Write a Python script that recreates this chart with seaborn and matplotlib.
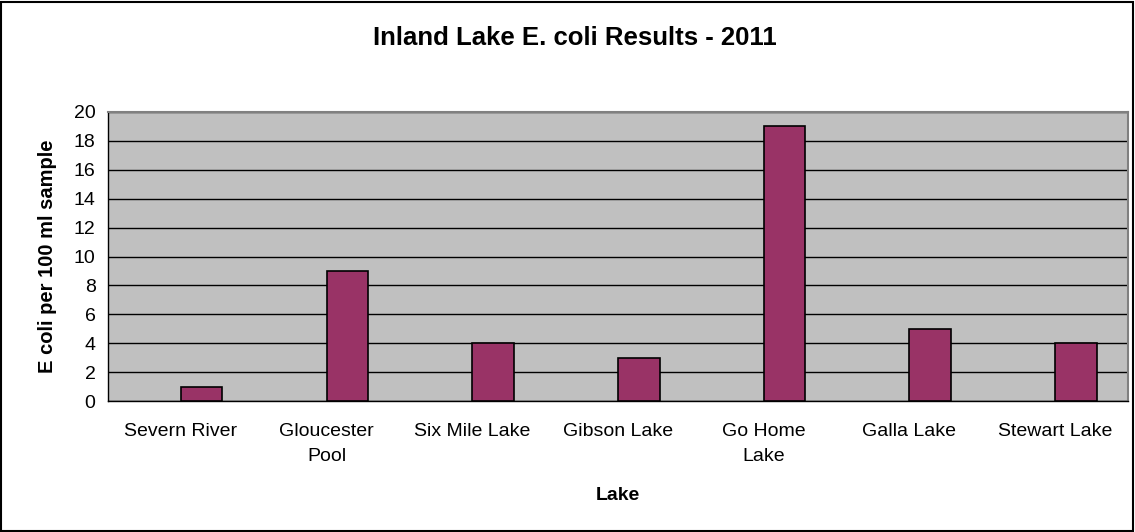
import pandas as pd
import matplotlib
matplotlib.use("Agg")
import matplotlib.pyplot as plt
import seaborn as sns
from matplotlib.patches import Rectangle

# chart data
lakes = ["Severn River", "Gloucester Pool", "Six Mile Lake", "Gibson Lake",
         "Go Home Lake", "Galla Lake", "Stewart Lake"]
tick_labels = ["Severn River", "Gloucester\nPool", "Six Mile Lake", "Gibson Lake",
               "Go Home\nLake", "Galla Lake", "Stewart Lake"]
ecoli = [1, 9, 4, 3, 19, 5, 4]

sns.set_theme(style="white")
plt.rcParams.update({
    "font.family": ["Liberation Sans", "DejaVu Sans"],
    "text.color": "black",
    "axes.labelcolor": "black",
    "xtick.color": "black",
    "ytick.color": "black",
})

df = pd.DataFrame({"lake": lakes, "ecoli": ecoli, "series": "E coli"})

fig = plt.figure(figsize=(11.35, 5.32), dpi=100)
ax = fig.add_axes([108 / 1135, 1 - 401 / 532, (1128 - 108) / 1135, (401 - 112) / 532])
ax.set_facecolor("#C0C0C0")

# Excel-style cluster: an empty first slot pushes the bar right of centre
sns.barplot(data=df, x="lake", y="ecoli", hue="series", order=lakes,
            hue_order=["blank", "E coli"], palette={"blank": "#C0C0C0", "E coli": "#993366"},
            dodge=True, saturation=1, width=1 / 1.75, edgecolor="black", linewidth=1.2,
            legend=False, ax=ax, zorder=3)

ax.set_ylim(0, 20)
ax.set_yticks(range(0, 21, 2))
ax.set_xlim(-0.5, len(lakes) - 0.5)
ax.yaxis.grid(True, color="black", linewidth=1)
ax.set_axisbelow(True)

ax.set_xticks(range(len(lakes)))
ax.set_xticklabels(tick_labels, fontsize=14, linespacing=1.6)
ax.set_xticks([i - 0.5 for i in range(len(lakes) + 1)], minor=True)
ax.tick_params(axis="x", which="major", length=0, pad=16)
ax.tick_params(axis="x", which="minor", length=6, width=1, color="black", direction="out")
ax.tick_params(axis="y", length=6, width=1, color="black", direction="out", labelsize=14, pad=3)

for side in ["left", "bottom"]:
    ax.spines[side].set_color("black")
    ax.spines[side].set_linewidth(1)
for side in ["top", "right"]:
    ax.spines[side].set_visible(True)
    ax.spines[side].set_color("#808080")
    ax.spines[side].set_linewidth(1.5)

ax.set_xlabel("Lake", fontsize=14, fontweight="bold", labelpad=16)
ax.set_ylabel("E coli per 100 ml sample", fontsize=14.5, fontweight="bold", labelpad=12)
fig.text(575 / 1135, 1 - 38 / 532, "Inland Lake E. coli Results - 2011",
         ha="center", va="center", fontsize=18.5, fontweight="bold")

fig.add_artist(Rectangle((0.001, 0.002), 0.997, 0.995, transform=fig.transFigure,
                         fill=False, edgecolor="black", linewidth=1.5))

fig.savefig("out.png", dpi=100)
